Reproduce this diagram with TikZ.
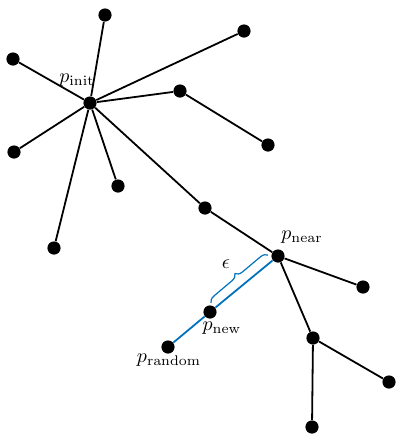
\documentclass[tikz,border=0pt]{standalone}
\usetikzlibrary{decorations.pathreplacing}
\definecolor{pathblue}{RGB}{0,114,189}
\begin{document}
\begin{tikzpicture}[x=0.5pt,y=-0.5pt,
  vertex/.style={circle,fill=black,inner sep=0pt,minimum size=6.6pt},
  edge/.style={draw=black,line width=0.9pt},
  newedge/.style={draw=pathblue,line width=0.9pt},
  lbl/.style={inner sep=0pt}]
\useasboundingbox (0,0) rectangle (398,435);
% tree vertices
\node[vertex] (init) at (90,103) {};
\node[vertex] (a) at (105,15) {};
\node[vertex] (b) at (13,59) {};
\node[vertex] (c) at (244,31) {};
\node[vertex] (d) at (180,91) {};
\node[vertex] (e) at (268,145) {};
\node[vertex] (f) at (14,152) {};
\node[vertex] (g) at (118,186) {};
\node[vertex] (h) at (54,248) {};
\node[vertex] (i) at (205,208) {};
\node[vertex] (near) at (278,256) {};
\node[vertex] (j) at (363,287) {};
\node[vertex] (k) at (313,338) {};
\node[vertex] (l) at (389,382) {};
\node[vertex] (m) at (312,427) {};
\node[vertex] (new) at (210,312) {};
\node[vertex] (rand) at (168,347) {};
% tree edges
\foreach \t in {a,b,c,d,f,g,h,i} \draw[edge] (init) -- (\t);
\draw[edge] (d) -- (e);
\draw[edge] (i) -- (near);
\draw[edge] (near) -- (j);
\draw[edge] (near) -- (k);
\draw[edge] (k) -- (l);
\draw[edge] (k) -- (m);
% extension towards the random sample
\draw[newedge] (rand) -- (new) -- (near);
\coordinate (bs) at (211,303);
\coordinate (be) at (268,255);
\draw[pathblue,line width=0.6pt,decorate,decoration={brace,amplitude=3.5pt}] (bs) -- (be);
% labels
\node[lbl] (linit) at (77,80) {$p_{\mathrm{init}}$};
\node[lbl] (lnear) at (302,237) {$p_{\mathrm{near}}$};
\node[lbl] (lnew) at (222,328) {$p_{\mathrm{new}}$};
\node[lbl] (lrand) at (169,360) {$p_{\mathrm{random}}$};
\node[lbl] (leps) at (226,264) {$\epsilon$};
\end{tikzpicture}
\end{document}
